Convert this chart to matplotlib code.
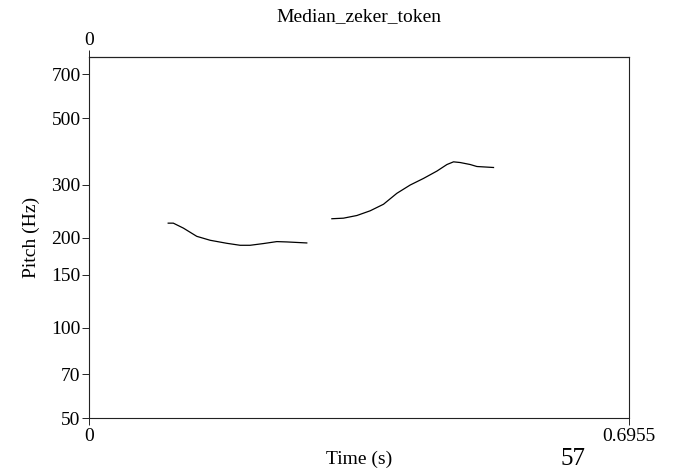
import matplotlib
matplotlib.use("Agg")
import matplotlib.pyplot as plt

plt.rcParams['font.family'] = ['Liberation Serif', 'DejaVu Serif']

# Data
t1 = [0.102, 0.1086, 0.1215, 0.1388, 0.156, 0.1774, 0.1946, 0.2075, 0.2246, 0.2419, 0.2548, 0.2805]
f1 = [223.3, 223.3, 215.0, 201.8, 195.8, 191.3, 188.4, 188.4, 190.9, 193.8, 193.3, 191.8]
t2 = [0.3128, 0.3277, 0.3450, 0.3621, 0.3793, 0.3965, 0.4137, 0.4308, 0.4481, 0.4610, 0.4695,
      0.4781, 0.4910, 0.4996, 0.5210]
f2 = [231.0, 232.0, 236.8, 245.5, 258.2, 280.8, 299.3, 314.8, 333.1, 350.3, 357.6,
      355.7, 350.3, 345.0, 342.4]
yticks = [50, 70, 100, 150, 200, 300, 500, 700]
xmax = 0.6955
title = "Median_zeker_token"

FS = 14
fig = plt.figure(figsize=(6.74, 4.72), dpi=100)
ax = fig.add_axes([89/674, 1-418/472, 540/674, 361/472])
ax.plot(t1, f1, color='black', lw=0.9)
ax.plot(t2, f2, color='black', lw=0.9)
ax.set_yscale('log')
ax.set_ylim(50, 800)
ax.set_xlim(0, xmax)
ax.set_yticks(yticks)
ax.set_yticklabels([str(v) for v in yticks])
ax.yaxis.set_minor_locator(matplotlib.ticker.NullLocator())
ax.set_xticks([0, xmax])
ax.set_xticklabels(['0', '0.6955'])
ax.tick_params(axis='both', labelsize=FS, length=5, width=0.6, direction='out', pad=1)
ax.tick_params(axis='x', pad=2)
for s in ax.spines.values():
    s.set_linewidth(0.8)
    s.set_color('#222222')

sec = ax.secondary_xaxis('top')
sec.set_xticks([0])
sec.set_xticklabels(['0'])
sec.tick_params(labelsize=FS, length=5, width=0.6, pad=1)

ax.set_ylabel('Pitch (Hz)', fontsize=FS, labelpad=8)
ax.set_xlabel('Time (s)', fontsize=FS, labelpad=4)
fig.text((89+629)/2/674, 1-17/472, title, ha='center', va='center', fontsize=FS)
fig.text(573/674, 1-470/472, '57', ha='center', va='bottom', fontsize=18)

fig.savefig('out.png', dpi=100)
